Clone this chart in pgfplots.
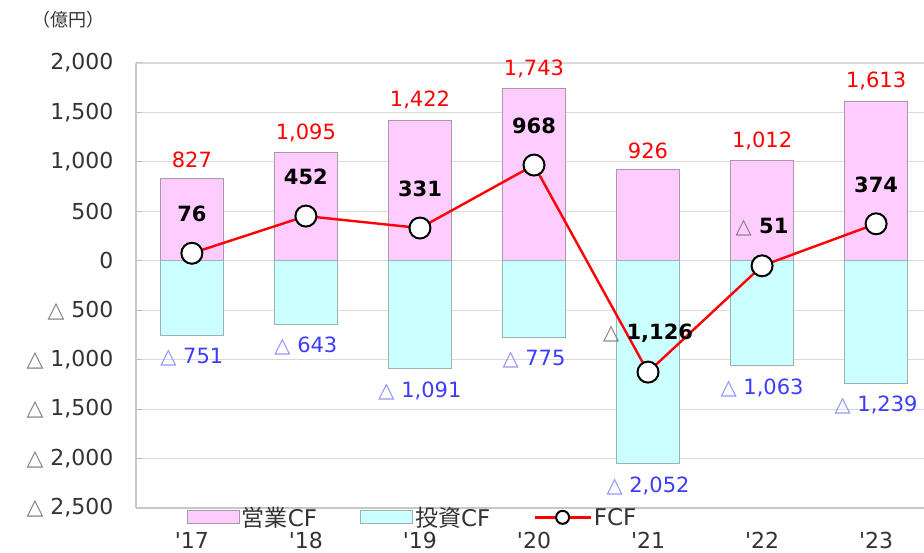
\documentclass[border=0pt]{standalone}
\usepackage{pgfplots}
\pgfplotsset{compat=1.18}
\usepackage{pgfplotstable}
\usepackage{fontspec}
\setmainfont{DejaVu Sans}
\newfontfamily\cjk{Noto Sans CJK JP}
\definecolor{opfill}{HTML}{FFCCFF}
\definecolor{opdraw}{HTML}{A899A8}
\definecolor{invfill}{HTML}{CCFFFF}
\definecolor{invdraw}{HTML}{99B3B3}
\definecolor{labblue}{HTML}{3C3CFF}
\definecolor{tickgray}{HTML}{333333}
\definecolor{gridgray}{HTML}{D9D9D9}
\newcommand\tri{\textcolor{gray}{\mdseries △}}
\newcommand\lab{\fontsize{21}{25}\selectfont}
\newcommand\tlab{\fontsize{22}{26}\selectfont}
\newcommand\llab{\fontsize{23}{26}\selectfont}
\pgfkeys{/pgf/number format/.cd, 1000 sep={,}, assume math mode=true}

\pgfplotstableread{
x op inv invabs fcf fcflab
0 827 -751 751 76 {76}
1 1095 -643 643 452 {452}
2 1422 -1091 1091 331 {331}
3 1743 -775 775 968 {968}
4 926 -2052 2052 -1126 {\tri\ 1,126}
5 1012 -1063 1063 -51 {\tri\ 51}
6 1613 -1239 1239 374 {374}
}\cfdata

\pgfplotsset{
  fcflegend/.style={legend image code/.code={\draw[mark repeat=2, mark phase=2, ##1, mark size=6.5pt] plot coordinates {(0pt,0pt) (28pt,0pt) (56pt,0pt)};}},
}

\begin{document}
\begin{tikzpicture}
\useasboundingbox (-136pt,-45pt) rectangle (788pt,508pt);
\begin{axis}[
  at={(0pt,0pt)}, anchor=south west,
  scale only axis, width=788pt, height=445pt,
  xmin=-0.49, xmax=6.42, ymin=-2500, ymax=2000,
  ytick={-2500,-2000,...,2000},
  yticklabels={{\tri\ 2,500},{\tri\ 2,000},{\tri\ 1,500},{\tri\ 1,000},{\tri\ 500},0,500,{1,000},{1,500},{2,000}},
  xtick={0,1,2,3,4,5,6},
  xticklabels={\textquotesingle17,\textquotesingle18,\textquotesingle19,\textquotesingle20,\textquotesingle21,\textquotesingle22,\textquotesingle23},
  ymajorgrids, grid style={gridgray, line width=1.2pt},
  axis y line*=left, axis x line*=bottom,
  axis line style={gridgray!80!gray, line width=1.2pt},
  ytick style={draw=gridgray!70!gray, line width=1pt}, tick align=inside, major tick length=6pt,
  xtick style={draw=none},
  yticklabel style={font=\tlab, text=tickgray, xshift=-19pt},
  xticklabel style={font=\tlab, text=tickgray, anchor=center, yshift=-32.5pt},
  legend columns=3,
  legend style={draw=none, fill=none, at={(0.351,-0.021)}, anchor=center, font=\llab, text=tickgray,
    /tikz/every even column/.append style={column sep=41pt}},
]
\addplot[ybar, bar width=0.55, bar shift=0pt, fill=opfill, draw=opdraw, line width=1pt,
  nodes near coords={\pgfmathprintnumber{\pgfplotspointmeta}},
  point meta=y,
  nodes near coords style={text=red, font=\lab, anchor=south, yshift=7pt},
  legend image code/.code={\draw[fill=opfill, draw=opdraw, line width=1pt] (0pt,-6.5pt) rectangle (52pt,6.5pt);}]
  table[x=x, y=op]{\cfdata};
\addlegendentry{{\cjk 営業}CF}
\addplot[ybar, bar width=0.55, bar shift=0pt, fill=invfill, draw=invdraw, line width=1pt,
  point meta=explicit,
  nodes near coords={{\color{labblue!60}△}\ \pgfmathprintnumber{\pgfplotspointmeta}},
  nodes near coords style={text=labblue, font=\lab, anchor=north, yshift=-9pt},
  legend image code/.code={\draw[fill=invfill, draw=invdraw, line width=1pt] (0pt,-6.5pt) rectangle (52pt,6.5pt);}]
  table[x=x, y=inv, meta=invabs]{\cfdata};
\addlegendentry{{\cjk 投資}CF}
\addplot[red, line width=2.4pt, mark=*, mark size=10.5pt,
  mark options={fill=white, draw=black, line width=2pt},
  point meta=explicit symbolic,
  nodes near coords,
  nodes near coords style={text=black, font=\lab\bfseries, anchor=center, yshift=39pt},
  fcflegend]
  table[x=x, y=fcf, meta=fcflab]{\cfdata};
\addlegendentry{FCF}
\end{axis}
\node[font=\cjk\fontsize{18}{21}\selectfont, text=tickgray] at (-67pt,488pt) {（億円）};
\end{tikzpicture}
\end{document}
